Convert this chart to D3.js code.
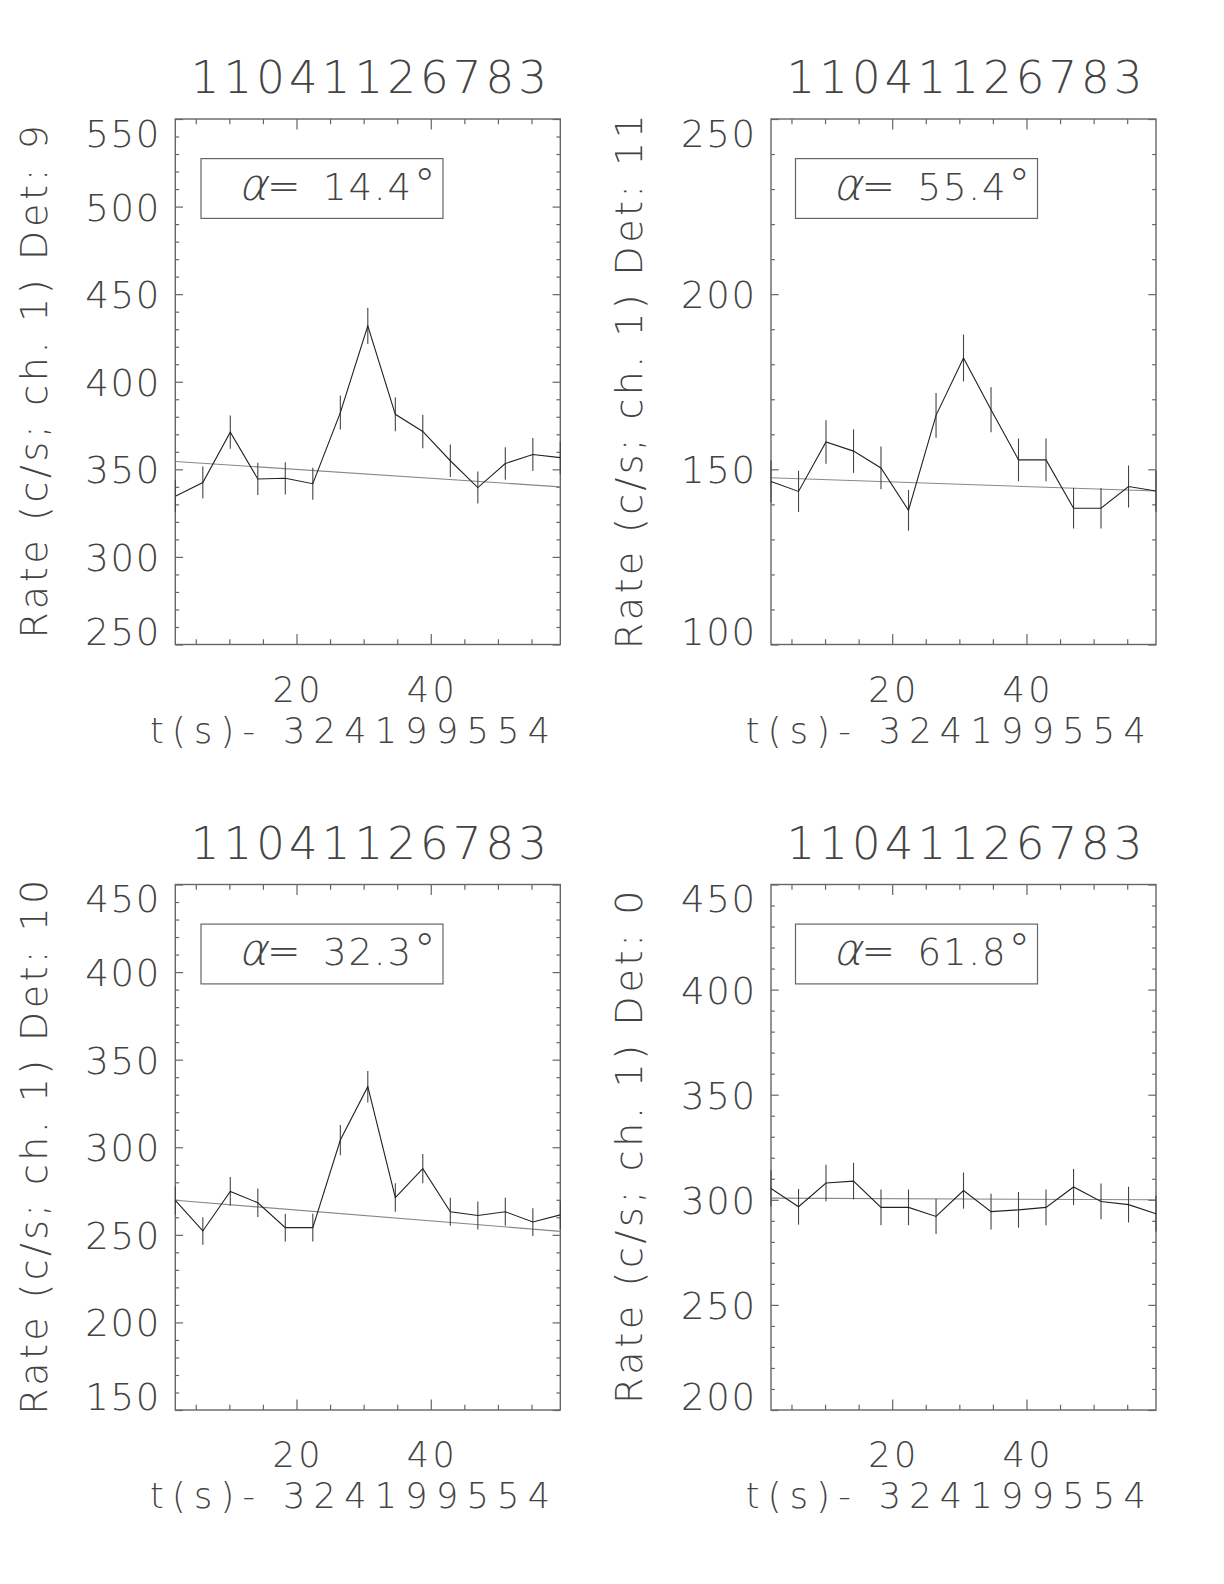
<!DOCTYPE html>
<html>
<head>
<meta charset="utf-8">
<script src="https://cdn.jsdelivr.net/npm/d3@7"></script>
<style>
  html, body { margin: 0; padding: 0; background: #fff; }
  text { font-family: "DejaVu Sans", Roboto, sans-serif; font-weight: 200; fill: #444; }
</style>
</head>
<body>
<svg id="chart" width="1224" height="1584"></svg>
<script>
// ---------------- data ----------------
const titleText = "11041126783";
const xTitle = "t(s)- 324199554";
const times = [1.95, 6.05, 10.14, 14.24, 18.33, 22.43, 26.53, 30.62, 34.72, 38.81, 42.91, 47.01, 51.10, 55.20, 59.29];
const xMajorTicks = [20, 40];
const xMinorTicks = [5, 10, 15, 25, 30, 35, 45, 50, 55];

const detectors = ["9", "11", "10", "0"];
const alphas = ["14.4", "55.4", "32.3", "61.8"];
const yDomains = [[250, 550], [100, 250], [150, 450], [200, 450]];

const rateDet9  = [334.7, 342.5, 371.2, 344.5, 344.9, 341.8, 382.4, 431.9, 381.4, 371.6, 354.9, 339.6, 353.3, 358.5, 356.7];
const errDet9   = [9.0, 9.1, 9.5, 9.2, 9.2, 9.1, 9.7, 10.3, 9.7, 9.5, 9.3, 9.1, 9.3, 9.4, 9.3];
const fitDet9   = [354.5, 340.0];

const rateDet11 = [146.5, 143.7, 157.8, 155.2, 150.4, 138.3, 165.4, 181.8, 167.0, 152.7, 152.7, 138.9, 138.9, 145.1, 143.8];
const errDet11  = [6.0, 5.9, 6.2, 6.2, 6.1, 5.8, 6.4, 6.7, 6.4, 6.1, 6.1, 5.8, 5.8, 6.0, 5.9];
const fitDet11  = [147.6, 143.8];

const rateDet10 = [269.7, 252.2, 274.8, 268.3, 254.1, 254.1, 304.1, 334.6, 271.3, 287.8, 263.2, 261.0, 263.2, 257.3, 261.4];
const errDet10  = [8.1, 7.8, 8.2, 8.1, 7.9, 7.9, 8.6, 9.0, 8.1, 8.4, 8.0, 8.0, 8.0, 7.9, 8.0];
const fitDet10  = [269.7, 252.0];

const rateDet0  = [305.4, 296.7, 308.0, 308.9, 296.4, 296.4, 292.1, 304.4, 294.4, 295.2, 296.4, 306.1, 299.2, 297.7, 293.4];
const errDet0   = [8.6, 8.5, 8.7, 8.7, 8.5, 8.5, 8.4, 8.6, 8.5, 8.5, 8.5, 8.6, 8.5, 8.5, 8.5];
const fitDet0   = [300.8, 300.0];

const rates = [rateDet9, rateDet11, rateDet10, rateDet0];
const errs  = [errDet9, errDet11, errDet10, errDet0];
const fits  = [fitDet9, fitDet11, fitDet10, fitDet0];

// ---------------- layout ----------------
const boxW = 385, boxH = 525.5;
const origins = [[175.3, 119], [771, 119], [175.3, 884.5], [771, 884.5]];
const alphaOffsets = [25.7, 24.5, 25.7, 24.5];

const svg = d3.select("#chart");
const axisColor = "#666";

origins.forEach((o, i) => {
  const [x0, y0] = o;
  const g = svg.append("g").attr("transform", `translate(${x0},${y0})`);
  const x = d3.scaleLinear().domain([times[0], times[times.length - 1]]).range([0, boxW]);
  const yd = yDomains[i];
  const y = d3.scaleLinear().domain(yd).range([boxH, 0]);

  const yMajor = d3.range(yd[0], yd[1] + 0.1, 50);
  const yMinor = d3.range(yd[0], yd[1] + 0.1, 10).filter(v => v % 50 !== 0);

  const styleAxis = sel => {
    sel.select(".domain").remove();
    sel.selectAll("line").attr("stroke", axisColor).attr("stroke-width", 1.2);
    sel.selectAll("text").remove();
  };

  // x ticks (inward) bottom & top
  g.append("g").attr("transform", `translate(0,${boxH})`)
    .call(d3.axisBottom(x).tickValues(xMajorTicks).tickSize(-10.5).tickFormat("")).call(styleAxis);
  g.append("g").attr("transform", `translate(0,${boxH})`)
    .call(d3.axisBottom(x).tickValues(xMinorTicks).tickSize(-5.25).tickFormat("")).call(styleAxis);
  g.append("g")
    .call(d3.axisTop(x).tickValues(xMajorTicks).tickSize(-10.5).tickFormat("")).call(styleAxis);
  g.append("g")
    .call(d3.axisTop(x).tickValues(xMinorTicks).tickSize(-5.25).tickFormat("")).call(styleAxis);
  // y ticks (inward) left & right
  g.append("g").call(d3.axisLeft(y).tickValues(yMajor).tickSize(-7.7).tickFormat("")).call(styleAxis);
  g.append("g").call(d3.axisLeft(y).tickValues(yMinor).tickSize(-3.85).tickFormat("")).call(styleAxis);
  g.append("g").attr("transform", `translate(${boxW},0)`)
    .call(d3.axisRight(y).tickValues(yMajor).tickSize(-7.7).tickFormat("")).call(styleAxis);
  g.append("g").attr("transform", `translate(${boxW},0)`)
    .call(d3.axisRight(y).tickValues(yMinor).tickSize(-3.85).tickFormat("")).call(styleAxis);

  // frame
  g.append("rect").attr("x", 0).attr("y", 0).attr("width", boxW).attr("height", boxH)
    .attr("fill", "none").attr("stroke", axisColor).attr("stroke-width", 1.4);

  // y tick labels
  g.selectAll(".ylab").data(yMajor).enter().append("text")
    .attr("x", -16).attr("text-anchor", "end")
    .attr("y", d => Math.min(Math.max(y(d) + 14, 27.5), boxH))
    .attr("font-size", 37).attr("textLength", 74).attr("lengthAdjust", "spacing")
    .text(d => d3.format("d")(d));

  // x tick labels
  g.selectAll(".xlab").data(xMajorTicks).enter().append("text")
    .attr("x", d => x(d)).attr("y", boxH + 57).attr("text-anchor", "middle")
    .attr("font-size", 35).attr("textLength", 48).attr("lengthAdjust", "spacing")
    .text(d => d);

  // x title
  g.append("text").attr("x", 174.7).attr("y", boxH + 98).attr("text-anchor", "middle")
    .attr("font-size", 35).attr("textLength", 400).attr("lengthAdjust", "spacing")
    .text(xTitle);

  // title
  g.append("text").attr("x", boxW / 2 + 1).attr("y", -25.7).attr("text-anchor", "middle")
    .attr("font-size", 45).attr("textLength", 356).attr("lengthAdjust", "spacing")
    .text(titleText);

  // y title
  const yt = "Rate (c/s; ch. 1) Det: " + detectors[i];
  g.append("text")
    .attr("transform", `translate(-128.6,${boxH / 2}) rotate(-90)`)
    .attr("text-anchor", "middle").attr("font-size", 38)
    .attr("textLength", yt.length * 21.4).attr("lengthAdjust", "spacing")
    .text(yt);

  // alpha box
  const ax = alphaOffsets[i], ay = 39.6;
  g.append("rect").attr("x", ax).attr("y", ay).attr("width", 242).attr("height", 59.8)
    .attr("fill", "none").attr("stroke", axisColor).attr("stroke-width", 1.2);
  g.append("text")
    .attr("transform", `translate(${ax + 37},${ay + 41.2}) skewX(-14)`)
    .attr("font-size", 44).text("α");
  g.append("text").attr("x", ax + 66).attr("y", ay + 41.2)
    .attr("font-size", 40).text("=");
  const at = g.append("text").attr("x", ax + 122).attr("y", ay + 41.2)
    .attr("font-size", 37);
  at.append("tspan").attr("textLength", 88).attr("lengthAdjust", "spacing").text(alphas[i]);
  at.append("tspan").attr("font-size", 44).attr("dx", 1).text("°");

  // clip for data
  const clipId = "clip" + i;
  g.append("clipPath").attr("id", clipId).append("rect")
    .attr("x", -1).attr("y", 0).attr("width", boxW + 2).attr("height", boxH);
  const plot = g.append("g").attr("clip-path", `url(#${clipId})`);

  // fit line
  plot.append("line")
    .attr("x1", x(times[0])).attr("x2", x(times[times.length - 1]))
    .attr("y1", y(fits[i][0])).attr("y2", y(fits[i][1]))
    .attr("stroke", "#888").attr("stroke-width", 1.1);

  // error bars
  const pts = times.map((t, k) => ({ t, v: rates[i][k], e: errs[i][k] }));
  plot.selectAll(".eb").data(pts).enter().append("line")
    .attr("x1", d => x(d.t)).attr("x2", d => x(d.t))
    .attr("y1", d => y(d.v - d.e)).attr("y2", d => y(d.v + d.e))
    .attr("stroke", "#444").attr("stroke-width", 1.1);

  // data line
  plot.append("path").datum(pts)
    .attr("d", d3.line().x(d => x(d.t)).y(d => y(d.v)))
    .attr("fill", "none").attr("stroke", "#222").attr("stroke-width", 1.1);
});
</script>
</body>
</html>
